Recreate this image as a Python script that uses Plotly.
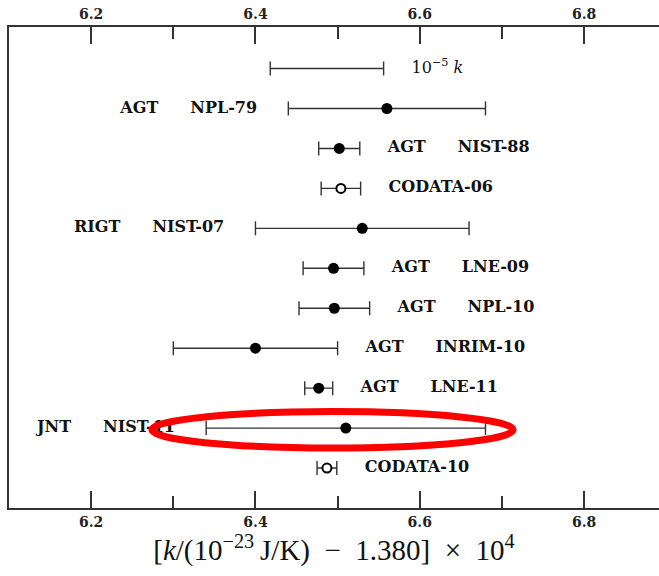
import plotly.graph_objects as go

# ---- data ----
methods = ["", "AGT", "AGT", "", "RIGT", "AGT", "AGT", "AGT", "AGT", "JNT", ""]
names = ["10<sup>−5</sup> <i>k</i>", "NPL-79", "NIST-88", "CODATA-06", "NIST-07", "LNE-09",
         "NPL-10", "INRIM-10", "LNE-11", "NIST-11", "CODATA-10"]
values = [6.487, 6.560, 6.502, 6.504, 6.530, 6.495, 6.496, 6.400, 6.477, 6.510, 6.487]
errors = [0.069, 0.120, 0.025, 0.024, 0.130, 0.037, 0.043, 0.100, 0.017, 0.170, 0.012]
kind = ["scale", "meas", "meas", "codata", "meas", "meas", "meas", "meas", "meas", "meas", "codata"]
label_side = ["right", "left", "right", "right", "left", "right", "right", "right", "right", "left", "right"]

n = len(names)
ypos = [n - 1 - i for i in range(n)]

LINE = "#333333"
TXT = "#111111"
fig = go.Figure()

def add_group(sel, marker):
    idx = [i for i in range(n) if kind[i] == sel]
    fig.add_trace(go.Scatter(
        x=[values[i] for i in idx], y=[ypos[i] for i in idx], mode="markers",
        marker=marker,
        error_x=dict(type="data", array=[errors[i] for i in idx], symmetric=True,
                     color=LINE, thickness=1.4, width=7),
        showlegend=False, hoverinfo="skip"))

add_group("scale", dict(size=1, color="rgba(0,0,0,0)"))
add_group("meas", dict(size=11, color="black", symbol="circle"))
add_group("codata", dict(size=9, color="white", symbol="circle", line=dict(color="black", width=2)))

# labels
gap_r = 0.034
gap_l = 0.038
for side in ["right", "left"]:
    idx = [i for i in range(n) if label_side[i] == side]
    xs, ys, txt = [], [], []
    for i in idx:
        if side == "right":
            xs.append(values[i] + errors[i] + gap_r)
        else:
            xs.append(values[i] - errors[i] - gap_l)
        ys.append(ypos[i])
        if kind[i] == "scale":
            txt.append(names[i])
        elif methods[i]:
            txt.append("<b>" + methods[i] + "\u2003\u2003" + names[i] + "</b>")
        else:
            txt.append("<b>" + names[i] + "</b>")
    fig.add_trace(go.Scatter(
        x=xs, y=ys, mode="text", text=txt,
        textposition="middle right" if side == "right" else "middle left",
        textfont=dict(family="DejaVu Serif", size=16, color=TXT),
        showlegend=False, hoverinfo="skip"))

# invisible trace for top axis
fig.add_trace(go.Scatter(x=[6.5], y=[0], xaxis="x2", mode="markers",
                         marker=dict(size=1, color="rgba(0,0,0,0)"),
                         showlegend=False, hoverinfo="skip"))

# red ellipse highlighting NIST-11
fig.add_shape(type="circle", xref="x", yref="y", x0=6.274, x1=6.7136, y0=0.5025, y1=1.4125,
              line=dict(color="#ff0000", width=7), layer="above")

xr = [6.1, 6.8912]
axis_common = dict(
    range=xr, tick0=6.2, dtick=0.2, ticks="inside", ticklen=17, tickwidth=1.5,
    tickcolor=LINE, showline=True, linecolor=LINE, linewidth=2, showgrid=False,
    zeroline=False, tickformat=".1f",
    tickfont=dict(family="DejaVu Serif", size=14, color="#222222", weight="bold"),
    minor=dict(ticks="inside", ticklen=12, tickwidth=1.5, tickcolor=LINE, dtick=0.1, tick0=6.1),
)

title_txt = ("[<i>k</i>/(10<sup>−23</sup>\u2009J/K)\u2002−\u20021.380]"
             "\u2002×\u200210<sup>4</sup>")

fig.update_layout(
    width=659, height=576,
    margin=dict(l=9, r=0, t=27, b=68),
    paper_bgcolor="white", plot_bgcolor="white",
    xaxis=dict(**axis_common, side="bottom",
               title=dict(text=title_txt,
                          font=dict(family="Liberation Serif", size=29, color=TXT),
                          standoff=9)),
    xaxis2=dict(**axis_common, side="top", overlaying="x", matches="x"),
    yaxis=dict(range=[-1.0, 11.04], showline=True, linecolor=LINE, linewidth=2,
               showticklabels=False, ticks="", showgrid=False, zeroline=False),
)

fig.write_html("out.html")
